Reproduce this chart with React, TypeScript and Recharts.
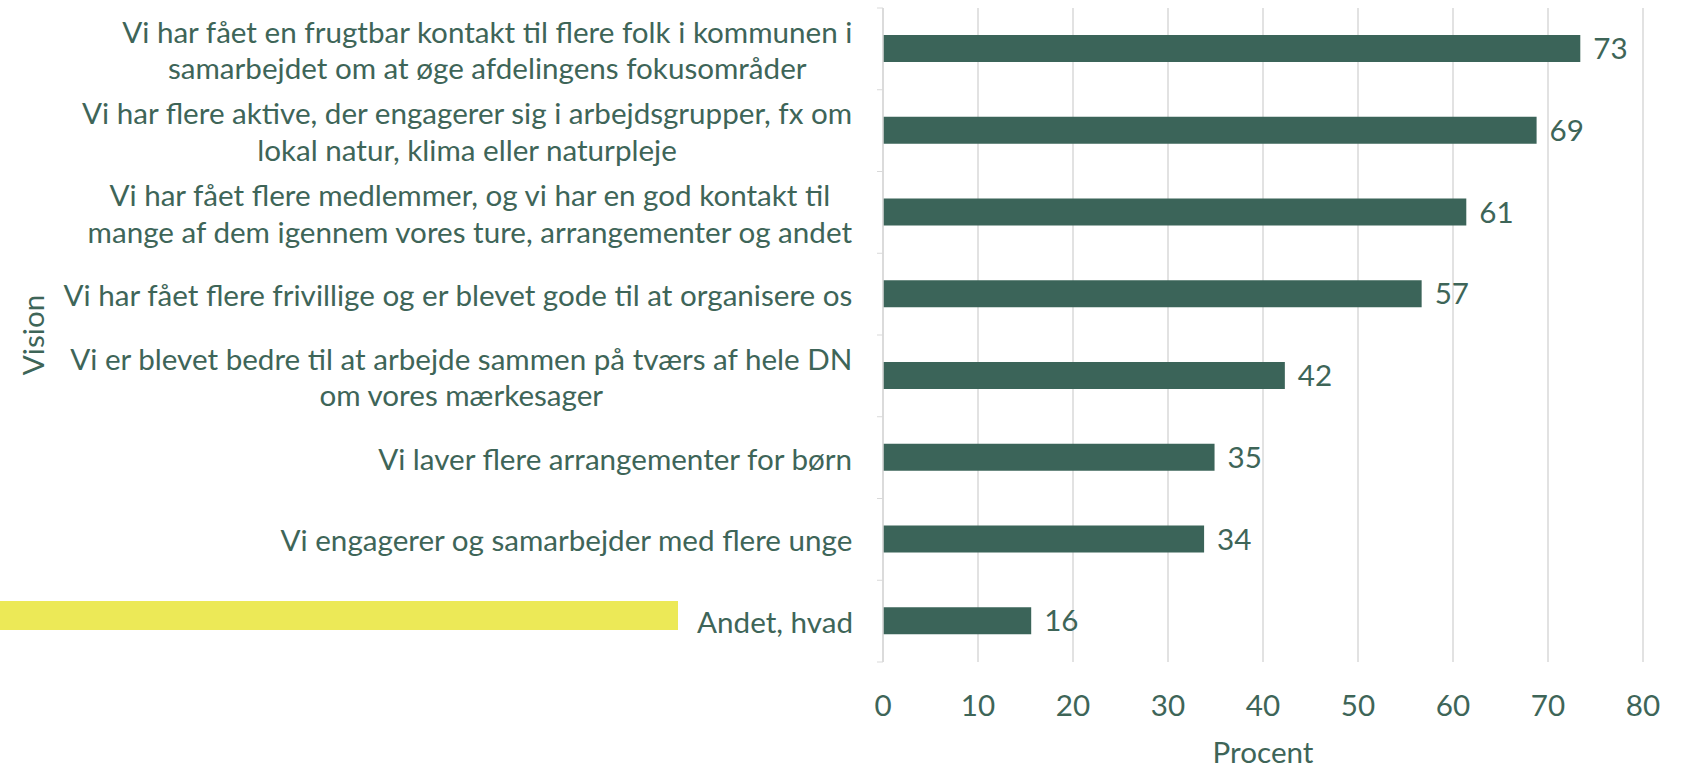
import React from 'react';
import { BarChart, Bar, XAxis, YAxis, CartesianGrid, LabelList } from 'recharts';

// categories top to bottom, line breaks as in the original
const categories = [
  'Vi har fået en frugtbar kontakt til flere folk i kommunen i\nsamarbejdet om at øge afdelingens fokusområder',
  'Vi har flere aktive, der engagerer sig i arbejdsgrupper, fx om\nlokal natur, klima eller naturpleje',
  'Vi har fået flere medlemmer, og vi har en god kontakt til\nmange af dem igennem vores ture, arrangementer og andet',
  'Vi har fået flere frivillige og er blevet gode til at organisere os',
  'Vi er blevet bedre til at arbejde sammen på tværs af hele DN\nom vores mærkesager',
  'Vi laver flere arrangementer for børn',
  'Vi engagerer og samarbejder med flere unge',
  'Andet, hvad',
];
const values = [73.4, 68.8, 61.4, 56.7, 42.3, 34.9, 33.8, 15.6];
const xTicks = [0, 10, 20, 30, 40, 50, 60, 70, 80];

const data = categories.map((name, i) => ({ name, value: values[i] }));

const GREEN = '#3b6459';
const TEXT = '#3e6558';
const GRID = '#d9d9d9';
const FONT = 'Lato, "Open Sans", sans-serif';
const FONT_SIZE = 29.6;
const LINE_H = 36.6;

let ctx: CanvasRenderingContext2D | null = null;
function textWidth(s: string) {
  if (!ctx) ctx = document.createElement('canvas').getContext('2d');
  if (!ctx) return s.length * 12;
  ctx.font = `${FONT_SIZE}px ${FONT}`;
  return ctx.measureText(s).width;
}

function CategoryTick(props: any) {
  const { x, y, payload, index } = props;
  const lines = String(payload.value).split('\n');
  const w = Math.max(...lines.map(textWidth));
  const cx = x - 30 - w / 2;
  const half = payload.offset || 40.9;
  const y0 = y - ((lines.length - 1) * LINE_H) / 2;
  return (
    <g>
      <line x1={x - 6} x2={x} y1={y - half} y2={y - half} stroke={GRID} />
      {index === categories.length - 1 && (
        <line x1={x - 6} x2={x} y1={y + half} y2={y + half} stroke={GRID} />
      )}
      <text x={cx} y={y0} textAnchor="middle" dominantBaseline="central" fill={TEXT} fontSize={FONT_SIZE} fontFamily={FONT}>
        {lines.map((l, i) => (
          <tspan key={i} x={cx} dy={i === 0 ? 0 : LINE_H}>{l}</tspan>
        ))}
      </text>
    </g>
  );
}

export default function App() {
  return (
    <div style={{ position: 'absolute', left: 0, top: 0, width: 1688, height: 768, background: '#fff' }}>
      {/* yellow marker left of the last row */}
      <div style={{ position: 'absolute', left: 0, top: 601, width: 678, height: 29, background: '#ece957' }} />
      <BarChart
        width={1688}
        height={768}
        data={data}
        layout="vertical"
        margin={{ top: 8, right: 45, bottom: 0, left: 0 }}
        style={{ position: 'absolute', left: 0, top: 0 }}
      >
        <CartesianGrid horizontal={false} stroke={GRID} strokeWidth={1.5} />
        <XAxis
          type="number"
          domain={[0, 80]}
          ticks={xTicks}
          axisLine={false}
          tickLine={false}
          tickSize={0}
          tickMargin={33}
          height={106}
          tick={{ fill: TEXT, fontSize: FONT_SIZE, fontFamily: FONT }}
          label={{ value: 'Procent', position: 'insideBottom', offset: 5, fill: TEXT, fontSize: FONT_SIZE, fontFamily: FONT }}
        />
        <YAxis
          type="category"
          dataKey="name"
          width={883}
          tickSize={0}
          tickMargin={0}
          tickLine={false}
          axisLine={{ stroke: GRID, strokeWidth: 1.5 }}
          tick={<CategoryTick />}
          interval={0}
          label={{
            content: ({ viewBox }: any) => {
              const cy = viewBox.y + viewBox.height / 2;
              return (
                <text x={32} y={cy} transform={`rotate(-90 32 ${cy})`} textAnchor="middle" dominantBaseline="central" fill={TEXT} fontSize={FONT_SIZE} fontFamily={FONT}>
                  Vision
                </text>
              );
            },
          }}
        />
        <Bar dataKey="value" fill={GREEN} barSize={27} isAnimationActive={false}>
          <LabelList
            dataKey="value"
            position="right"
            offset={13}
            formatter={(v: any) => Math.round(Number(v))}
            fill={TEXT}
            fontSize={FONT_SIZE}
            fontFamily={FONT}
          />
        </Bar>
      </BarChart>
    </div>
  );
}
